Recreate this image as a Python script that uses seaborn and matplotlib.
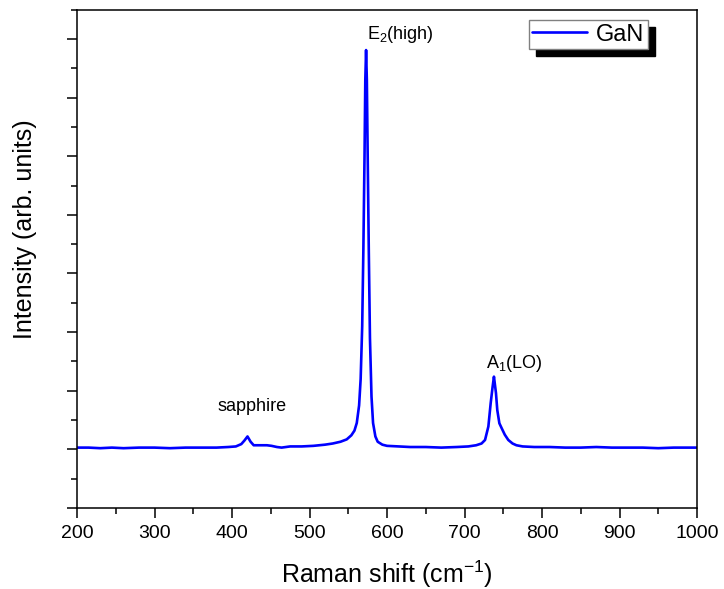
import matplotlib
matplotlib.use("Agg")
import matplotlib.pyplot as plt
from matplotlib.patches import Shadow
from matplotlib.ticker import MultipleLocator, NullFormatter
import seaborn as sns

# ---- data ----
raman_shift = [200, 215, 230, 245, 260, 280, 300, 320, 340, 360, 380, 395, 405,
               412, 416, 420, 424, 428, 435, 445, 451, 458, 464, 475, 490, 505,
               520, 530, 540, 548, 554, 558, 561, 564, 566, 568, 569.5, 571, 572,
               573, 574, 575, 576.5, 578, 580, 582, 585, 588, 594, 600, 615, 630,
               650, 670, 690, 705, 715, 722, 726.5, 730.8, 733.8, 736.3, 738,
               740.6, 742.3, 745, 748, 752, 756.5, 762, 767, 775, 790, 810, 830,
               850, 870, 890, 910, 930, 950, 970, 985, 1000]
intensity = [1.03, 1.03, 1.02, 1.03, 1.02, 1.03, 1.03, 1.02, 1.03, 1.03, 1.03, 1.04, 1.05,
             1.09, 1.15, 1.22, 1.13, 1.07, 1.07, 1.07, 1.06, 1.04, 1.03, 1.05, 1.05, 1.06,
             1.08, 1.10, 1.13, 1.17, 1.24, 1.32, 1.45, 1.75, 2.2, 3.1, 4.4, 6.0, 7.3,
             7.81, 7.3, 6.1, 4.4, 2.9, 1.9, 1.45, 1.22, 1.13, 1.08, 1.06, 1.05, 1.04,
             1.04, 1.03, 1.04, 1.05, 1.07, 1.10, 1.16, 1.39, 1.79, 2.07, 2.24,
             1.96, 1.67, 1.445, 1.36, 1.25, 1.16, 1.10, 1.07, 1.05, 1.04, 1.04, 1.03,
             1.03, 1.04, 1.03, 1.03, 1.03, 1.02, 1.03, 1.03, 1.03]
series_label = "GaN"
peak_labels = ["sapphire", r"E$_2$(high)", r"A$_1$(LO)"]
x_label = r"Raman shift (cm$^{-1}$)"
y_label = "Intensity (arb. units)"

sns.set_style("ticks")
plt.rcParams["font.family"] = ["Liberation Sans", "DejaVu Sans"]
plt.rcParams["mathtext.fontset"] = "custom"
plt.rcParams["mathtext.rm"] = "Liberation Sans"
plt.rcParams["mathtext.it"] = "Liberation Sans"
plt.rcParams["text.color"] = "black"
plt.rcParams["axes.labelcolor"] = "black"

fig = plt.figure(figsize=(7.24, 5.89), dpi=100)
ax = fig.add_axes([77 / 724, 1 - 508 / 589, 620 / 724, 498.4 / 589])

sns.lineplot(x=raman_shift, y=intensity, ax=ax, color="#0000FF", lw=1.9,
             label=series_label)

ax.set_xlim(200, 1000)
ax.set_ylim(0, 8.5)
ax.xaxis.set_major_locator(MultipleLocator(100))
ax.xaxis.set_minor_locator(MultipleLocator(50))
ax.yaxis.set_major_locator(MultipleLocator(1))
ax.yaxis.set_minor_locator(MultipleLocator(0.5))
ax.yaxis.set_major_formatter(NullFormatter())
ax.tick_params(which="major", direction="out", length=7, width=1.1,
               labelsize=14, pad=5, color="black", labelcolor="black")
ax.tick_params(which="minor", direction="out", length=4, width=1.1, color="black")
ax.tick_params(top=False, right=False, which="both")
for s in ax.spines.values():
    s.set_linewidth(1.1)
    s.set_color("black")
    s.set_visible(True)

ax.set_xlabel(x_label, fontsize=18, labelpad=12, color="black")
ax.set_ylabel(y_label, fontsize=18, color="black")
ax.yaxis.set_label_coords(-0.064, 0.56)

ax.text(425.4, 1.73, peak_labels[0], fontsize=13, ha="center", va="center", color="black")
ax.text(617, 8.07, peak_labels[1], fontsize=13, ha="center", va="center", color="black")
ax.text(764, 2.47, peak_labels[2], fontsize=13, ha="center", va="center", color="black")

leg = ax.legend(loc="upper right", bbox_to_anchor=(0.921, 0.979), borderaxespad=0,
                fontsize=17, frameon=True, fancybox=False, framealpha=1,
                edgecolor="#808080", handlelength=2.3, handletextpad=0.4,
                borderpad=0.15)
leg.get_frame().set_linewidth(1.0)
for t in leg.get_texts():
    t.set_color("black")
leg.set_zorder(5)

fig.canvas.draw()
shadow = Shadow(leg.legendPatch, 5, -5, color="black", alpha=1)
shadow.set_zorder(4.5)
ax.add_artist(shadow)
shadow.set_clip_on(False)

fig.savefig("out.png", dpi=100)
